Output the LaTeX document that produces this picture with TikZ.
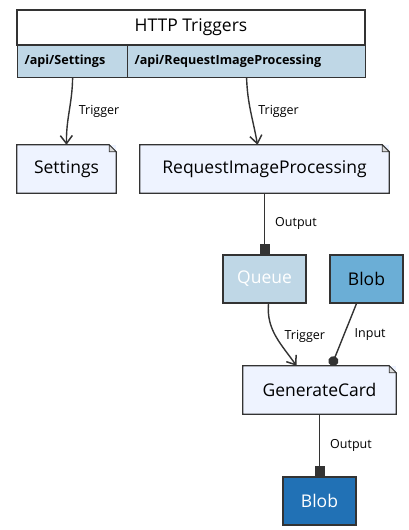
\documentclass[tikz,border=0pt]{standalone}
\usepackage{fontspec}
\setmainfont{Open Sans}
\usepackage{tikz}
\usetikzlibrary{positioning, arrows.meta, shapes.misc}

\definecolor{cellblue}{HTML}{BFD7E6}
\definecolor{notefill}{HTML}{EEF3FF}
\definecolor{bloblight}{HTML}{6BAED6}
\definecolor{blobdark}{HTML}{2171B5}
\definecolor{edgegray}{HTML}{333333}

\begin{document}
\begin{tikzpicture}[x=1pt,y=1pt,
        every node/.style={font=\fontsize{17.5}{20}\selectfont},
        title/.style={rectangle,draw=edgegray,fill=white,line width=1.2pt,minimum width=348,minimum height=35,inner sep=0},
        cell/.style={rectangle,draw=edgegray,fill=cellblue,line width=1.2pt,minimum height=32,inner xsep=7,inner ysep=0,align=left,font=\fontsize{12.6}{15}\selectfont\bfseries},
        note/.style={rectangle,fill=notefill,minimum height=48,inner sep=0},
        store/.style={rectangle,draw=edgegray,line width=1.2pt,minimum height=48,inner sep=0},
        lbl/.style={font=\fontsize{12.5}{15}\selectfont,text=black,inner sep=0},
        trigger/.style={-{Straight Barb[length=8pt,width=12pt,line width=1.5pt]},edgegray,line width=1.4pt},
        output/.style={-{Square[length=10pt,width=10pt]},edgegray,line width=1.4pt},
        input/.style={-{Circle[length=10pt]},edgegray,line width=1.4pt}]
        \useasboundingbox (0,0) rectangle (408,-530);

        % http trigger header
        \node[title] (http) at (191,-27.5) {HTTP Triggers};
        \node[cell,text width=96,anchor=north west] (api1) at (17,-45) {/api/Settings};
        \node[cell,text width=224,anchor=north west] (api2) at (127,-45) {/api/RequestImageProcessing};

        % functions and stores
        \node[note,minimum width=99] (settings) at (66.5,-169) {Settings};
        \node[note,minimum width=249] (rip) at (264.5,-169) {RequestImageProcessing};
        \node[store,fill=cellblue,text=white,minimum width=83] (queue) at (264.5,-279) {Queue};
        \node[store,fill=bloblight,minimum width=73] (blobin) at (366.5,-279) {Blob};
        \node[note,minimum width=153] (gen) at (319.5,-390) {GenerateCard};
        \node[store,fill=blobdark,text=white,minimum width=73] (blobout) at (319.5,-501) {Blob};

        % note outlines with folded corner
        \foreach \n in {settings,rip,gen} {
            \draw[edgegray,line width=1.2pt,line join=miter] (\n.south west) -- (\n.north west) -- ([xshift=-7]\n.north east)
                -- ([yshift=-7]\n.north east) -- (\n.south east) -- cycle;
            \draw[edgegray,fill=gray!30,line width=0.7pt] ([xshift=-7]\n.north east) -- ++(0,-7) -- ++(7,0) -- cycle;
        }

        \path (api1.south) edge[trigger, out=-91, in=91] node[lbl,right=9pt]{Trigger} (settings.north)
              (api2.south) edge[trigger, out=-88, in=100] node[lbl,right=7pt]{Trigger} ([xshift=-7]rip.north)
              (rip.south) edge[output] node[lbl,right=10pt]{Output} (queue.north)
              ([xshift=4]queue.south) edge[trigger, out=-95, in=125] node[lbl,right=8pt]{Trigger} ([xshift=-23]gen.north)
              ([xshift=-10]blobin.south) edge[input] node[lbl,right=10pt]{Input} ([xshift=12]gen.north)
              (gen.south) edge[output] node[lbl,right=10pt]{Output} (blobout.north);
\end{tikzpicture}
\end{document}
